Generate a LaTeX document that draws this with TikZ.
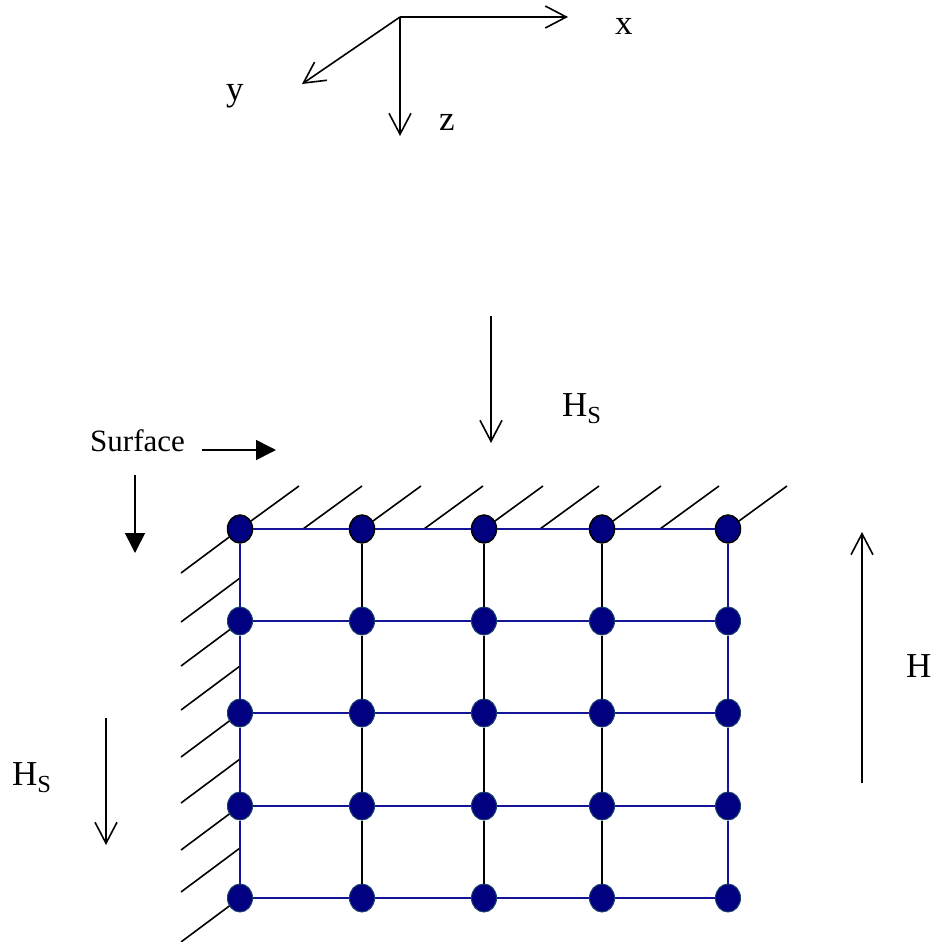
\documentclass[tikz,border=0pt]{standalone}
\usepackage{fontspec}
\setmainfont{Liberation Serif}
\usetikzlibrary{arrows.meta,shapes.geometric}

\definecolor{dotnavy}{RGB}{0,0,128}
\definecolor{dotedge}{RGB}{25,65,105}
\definecolor{gridblue}{RGB}{20,20,150}

\tikzset{
  lbl/.style={font=\fontsize{35}{40}\selectfont, inner sep=0pt, anchor=base west},
  surflbl/.style={font=\fontsize{31}{36}\selectfont, inner sep=0pt, anchor=base west},
  barb/.style={line width=1.6pt, -{Straight Barb[length=21pt, width=22pt]}},
  solidarr/.style={line width=1.6pt, -{Triangle[length=20pt, width=20pt]}},
  hatch/.style={line width=1.6pt},
  dot/.style={ellipse, minimum width=25pt, minimum height=28pt, inner sep=0pt,
    fill=dotnavy, draw=dotedge, line width=1pt},
  topdot/.style={dot, draw=black, line width=1.5pt},
  gridline/.style={gridblue, line width=1.7pt},
  innerline/.style={black, line width=1.7pt}
}

\begin{document}
\begin{tikzpicture}[x=1pt,y=-1pt]
\useasboundingbox (0,0) rectangle (936,942);

% axes
\coordinate (o) at (400,17);
\coordinate (xe) at (568,17);
\coordinate (ye) at (302,84);
\coordinate (ze) at (400,136);
\draw[barb] (o) -- (xe);
\draw[barb] (o) -- (ye);
\draw[barb] (o) -- (ze);
\node[lbl] (xl) at (615,35) {x};
\node[lbl] (yl) at (226,100) {y};
\node[lbl] (zl) at (439,130) {z};

% loads
\coordinate (hs1a) at (491,316);
\coordinate (hs1b) at (491,443);
\draw[barb] (hs1a) -- (hs1b);
\node[lbl] (hs1) at (562,416) {H\textsubscript{S}};

\coordinate (hs2a) at (106,718);
\coordinate (hs2b) at (106,845);
\draw[barb] (hs2a) -- (hs2b);
\node[lbl] (hs2) at (12,785) {H\textsubscript{S}};

\coordinate (ha) at (862,783);
\coordinate (hb) at (862,532);
\draw[barb] (ha) -- (hb);
\node[lbl] (h) at (906,677) {H};

% surface
\node[surflbl] (surf) at (90,451) {Surface};
\coordinate (sa) at (202,450);
\coordinate (sb) at (276,450);
\draw[solidarr] (sa) -- (sb);
\coordinate (sc) at (135,475);
\coordinate (sd) at (135,553);
\draw[solidarr] (sc) -- (sd);

% hatching
\foreach \x in {240,303,362,424,484,540,602,660,728}
  \draw[hatch] (\x,529) -- ++(59,-43);
\foreach \y in {529,578,622,666,713,759,806,848,898}
  \draw[hatch] (240,\y) -- ++(-59,44);

% grid points
\foreach \x [count=\i] in {240,362,484,602,728} {
  \node[topdot] (d\i1) at (\x,529) {};
  \foreach \y [count=\j from 2] in {621,713,806,898}
    \node[dot] (d\i\j) at (\x,\y) {};
}

% grid lines
\foreach \j in {1,...,5}
  \foreach \i/\k in {1/2,2/3,3/4,4/5}
    \draw[gridline] (d\i\j) -- (d\k\j);
\foreach \j/\k in {1/2,2/3,3/4,4/5} {
  \draw[gridline] (d1\j) -- (d1\k);
  \draw[gridline] (d5\j) -- (d5\k);
  \draw[innerline] (d2\j) -- (d2\k);
  \draw[innerline] (d3\j) -- (d3\k);
  \draw[innerline] (d4\j) -- (d4\k);
}
\end{tikzpicture}
\end{document}
